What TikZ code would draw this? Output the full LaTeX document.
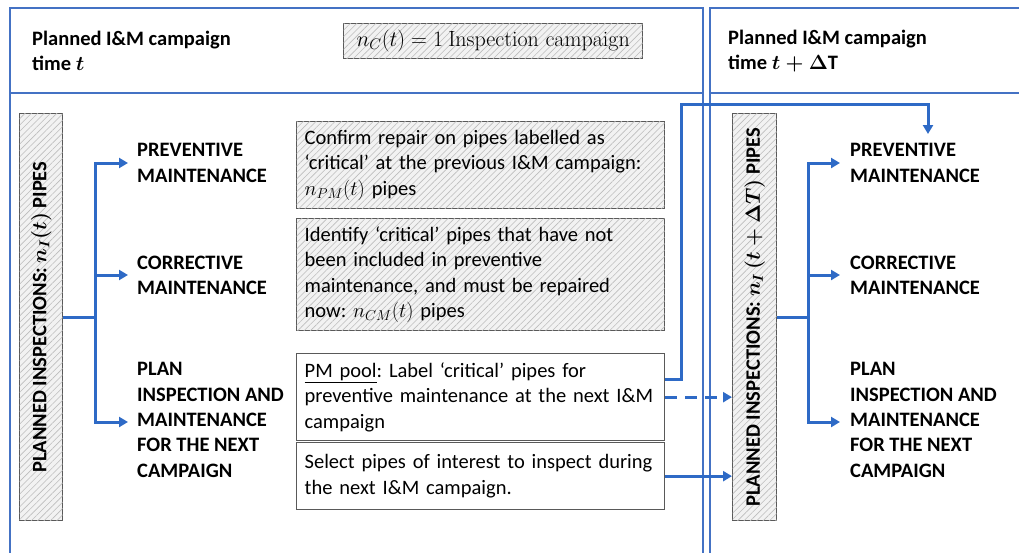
\RequirePackage{fix-cm}
\documentclass[tikz,border=0pt]{standalone}
\usepackage{fontspec}
\setmainfont{Carlito}
\newfontfamily\lmr{Latin Modern Roman}
\usetikzlibrary{arrows.meta,patterns.meta}
\definecolor{pblue}{HTML}{4472C4}
\definecolor{cblue}{HTML}{2E6AC6}
\definecolor{bgray}{HTML}{595959}
\definecolor{hgray}{HTML}{BDBDBD}
\definecolor{fgray}{HTML}{F2F2F2}
\hyphenpenalty=10000
\exhyphenpenalty=10000
\frenchspacing
\newcommand\bigfnt{\fontsize{20.5}{25.3}\selectfont}
\newcommand\mathfnt{\fontsize{22}{26}\selectfont}
\tikzset{
  panel/.style={draw=pblue, line width=1.5pt},
  conn/.style={draw=cblue, line width=3pt},
  arr/.style={conn, -{Triangle[length=9pt,width=10pt]}},
  hbox/.style={draw=bgray, line width=1.3pt, fill=fgray,
    postaction={pattern={Lines[angle=45,distance=4.5pt,line width=0.6pt]}, pattern color=hgray}},
  wbox/.style={draw=bgray, line width=1.3pt, fill=white},
  txtbox/.style={anchor=north west, minimum width=368pt, text width=352pt, inner xsep=8pt, inner ysep=4pt, align=left, font=\bigfnt},
  lab/.style={font=\bigfnt\bfseries, align=left, anchor=west, inner sep=0pt},
  vlab/.style={font=\bigfnt\bfseries, rotate=90, inner sep=0pt},
}
\begin{document}
\begin{tikzpicture}[x=1pt, y=-1pt, font=\bigfnt]
\useasboundingbox (0,0) rectangle (1019,552);
\clip (0,0) rectangle (1019,552);
% panels
\draw[panel] (10,570) -- (10,8) -- (703,8) -- (703,570);
\draw[panel] (10,93) -- (703,93);
\draw[panel] (710,570) -- (710,8) -- (1040,8);
\draw[panel] (710,93) -- (1040,93);
% headers
\node[lab] (h1) at (32,51) {Planned I\&M campaign\\time {\boldmath$t$}};
\node[lab] (h2) at (728,51) {Planned I\&M campaign\\time {\boldmath$t+\Delta\mathrm{T}$}};
\node[hbox, anchor=north west, minimum width=299pt, minimum height=35pt, inner sep=0pt, font=\mathfnt] (mc) at (343,23) {$n_C(t)=1$ {\lmr Inspection campaign}};
% left inspection box
\node[hbox, anchor=north west, minimum width=43pt, minimum height=407pt, inner sep=0pt] (lb) at (19,113) {};
\node[vlab] (lbt) at (lb.center) {PLANNED INSPECTIONS: {\boldmath$n_I(t)$} PIPES};
% right inspection box
\node[hbox, anchor=north west, minimum width=44pt, minimum height=407pt, inner sep=0pt] (rb) at (732,113) {};
\node[vlab] (rbt) at (rb.center) {PLANNED INSPECTIONS: {\boldmath$n_I\,(t+\Delta T)$} PIPES};
% left labels
\node[lab] (lpm) at (137,163) {PREVENTIVE\\MAINTENANCE};
\node[lab] (lcm) at (137,275) {CORRECTIVE\\MAINTENANCE};
\node[lab] (lpl) at (137,420) {PLAN\\INSPECTION AND\\MAINTENANCE\\FOR THE NEXT\\CAMPAIGN};
% right labels
\node[lab] (rpm) at (850,163) {PREVENTIVE\\MAINTENANCE};
\node[lab] (rcm) at (850,275) {CORRECTIVE\\MAINTENANCE};
\node[lab] (rpl) at (850,420) {PLAN\\INSPECTION AND\\MAINTENANCE\\FOR THE NEXT\\CAMPAIGN};
% text boxes
\node[hbox, txtbox, minimum height=87pt] (b1) at (296,121) {Confirm repair on pipes labelled as\\‘critical’ at the previous I\&M campaign:\\$n_{PM}(t)$ pipes};
\node[hbox, txtbox, minimum height=112pt] (b2) at (296,218) {Identify ‘critical’ pipes that have not\\been included in preventive\\maintenance, and must be repaired\\now: $n_{CM}(t)$ pipes};
\node[wbox, txtbox, minimum height=87pt] (b3) at (296,353) {\underline{PM pool}: Label ‘critical’ pipes for\\preventive maintenance at the next I\&M\\campaign};
\node[wbox, txtbox, minimum height=67pt] (b4) at (296,442) {Select pipes of interest to inspect during\\the next I\&M campaign.};
% left tree
\coordinate (ltr) at (95,317);
\draw[conn] (lb.east |- ltr) -- (ltr);
\draw[arr] (ltr) |- ([xshift=-9pt]lpm.west);
\draw[arr] (ltr) |- ([xshift=-9pt]lcm.west);
\draw[arr] (ltr) |- ([xshift=-9pt,yshift=-2pt]lpl.west);
% right tree
\coordinate (rtr) at (808,317);
\draw[conn] (rb.east |- rtr) -- (rtr);
\draw[arr] (rtr) |- ([xshift=-10pt]rpm.west);
\draw[arr] (rtr) |- ([xshift=-10pt]rcm.west);
\draw[arr] (rtr) |- ([xshift=-10pt,yshift=-2pt]rpl.west);
% cross-campaign links
\coordinate (c1) at (681,104);
\coordinate (c2) at (928,104);
\coordinate (c3) at (928,134);
\draw[arr] ([yshift=18pt]b3.east) -| (c1) -- (c2) -- (c3);
\draw[arr, dash pattern=on 12pt off 8pt] (b3.east) -- (b3.east -| rb.west);
\draw[arr] (b4.east) -- (b4.east -| rb.west);
\end{tikzpicture}
\end{document}
